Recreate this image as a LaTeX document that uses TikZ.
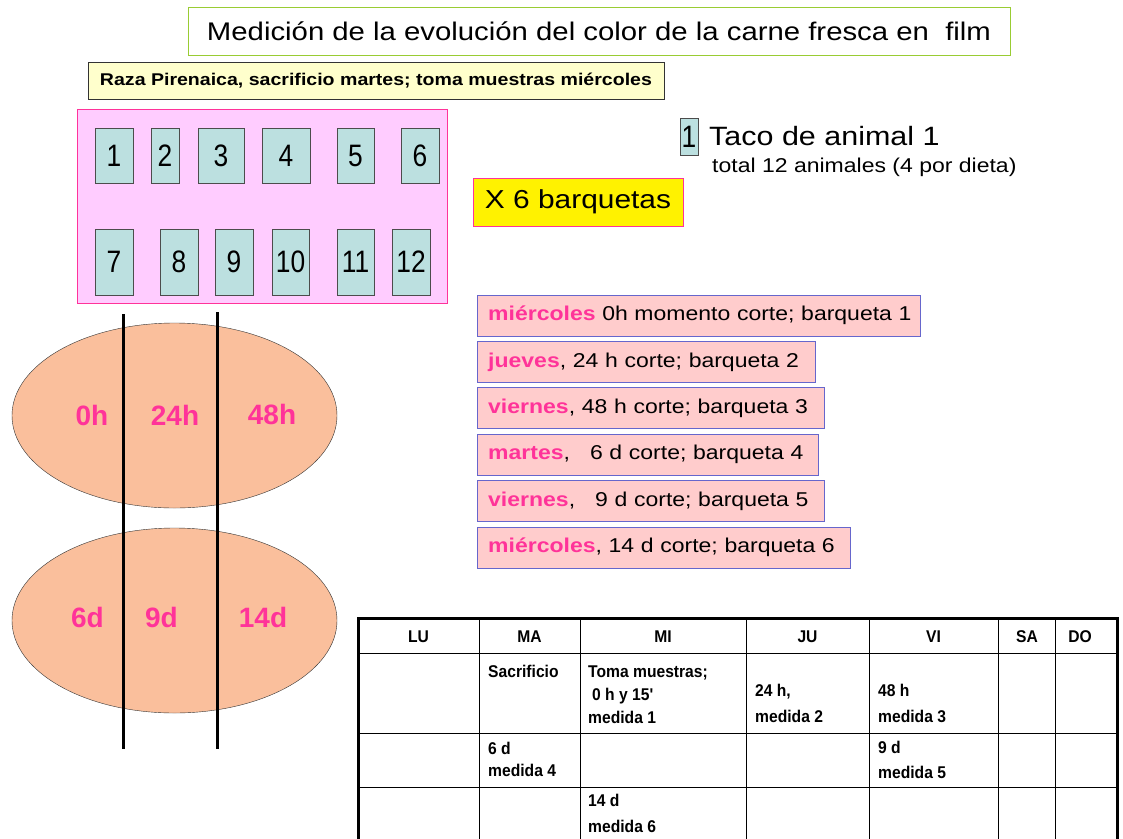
\documentclass[tikz,border=0pt]{standalone}
\usepackage{fontspec}
\setmainfont{Liberation Sans}[FakeStretch=1.15]
\newfontfamily\fuentebase{Liberation Sans}
\newfontfamily\fuentenum{Liberation Sans}[FakeStretch=0.85]
\newfontfamily\fuentetabla{Liberation Sans}[FakeStretch=0.92]
\usetikzlibrary{shapes.geometric}

\definecolor{verdetitulo}{HTML}{99CC33}
\definecolor{amarillopalido}{HTML}{FFFFCC}
\definecolor{rosapalido}{HTML}{FFCCFF}
\definecolor{rosafuerte}{HTML}{FF3399}
\definecolor{azulverde}{HTML}{BCE0E0}
\definecolor{rosacorte}{HTML}{FFCCCC}
\definecolor{lila}{HTML}{6666CC}
\definecolor{melocoton}{HTML}{FABF9C}

\newcommand{\diarosa}[1]{\textcolor{rosafuerte}{\textbf{#1}}}

\begin{document}
\begin{tikzpicture}[x=1pt,y=-1pt,
    taco/.style={draw=black!70, fill=azulverde, inner sep=0pt,
        font=\fuentenum\fontsize{31}{31}\selectfont},
    corte/.style={draw=lila, fill=rosacorte, anchor=west, align=left,
        minimum height=41pt, inner xsep=11pt, inner ysep=0pt,
        font=\fontsize{20}{24}\selectfont},
    tiempo/.style={text=rosafuerte, anchor=base,
        font=\fuentebase\bfseries\fontsize{28}{28}\selectfont},
    celda/.style={anchor=base west, inner sep=0pt,
        font=\fuentetabla\bfseries\fontsize{17}{17}\selectfont},
    cabecera/.style={celda, anchor=base}]

    % page
    \useasboundingbox (0,0) rectangle (1123,838);
    \fill[white] (0,0) rectangle (1123,838);

    % titles
    % ------
    \node[draw=verdetitulo, line width=1pt, minimum width=822pt, minimum height=48pt,
        font=\fontsize{25.5}{30}\selectfont] (titulo) at (599,31)
        {Medición de la evolución del color de la carne fresca en\ \ film};
    \node[draw=black!80, fill=amarillopalido, line width=1pt, minimum width=576pt,
        minimum height=37pt, font=\bfseries\fontsize{17}{20}\selectfont] (raza) at (376,80.5)
        {Raza Pirenaica, sacrificio martes; toma muestras miércoles};

    % tray with the 12 animals
    % ------------------------
    \node[draw=rosafuerte, fill=rosapalido, minimum width=370pt, minimum height=194pt]
        (bandeja) at (262,206) {};
    \foreach \n/\cx/\w in {1/114/38, 2/165/28, 3/221/46, 4/286/48, 5/355.5/37, 6/420/38}
        \node[taco, minimum width=\w pt, minimum height=55pt] (taco\n) at (\cx,155.5) {\n};
    \foreach \n/\cx/\w in {7/114/38, 8/179/38, 9/234/38, 10/290.5/37, 11/355.5/37, 12/411/38}
        \node[taco, minimum width=\w pt, minimum height=66pt] (taco\n) at (\cx,262) {\n};

    % legend
    \node[taco, minimum width=18pt, minimum height=37pt,
        font=\fuentenum\fontsize{31}{31}\selectfont] (leyenda) at (689,136.5) {1};
    \node[anchor=base west, inner sep=0pt, font=\fontsize{26.5}{30}\selectfont]
        (taco) at (709,145) {Taco de animal 1};
    \node[anchor=base west, inner sep=0pt, font=\fontsize{20}{24}\selectfont]
        (total) at (712,172) {total 12 animales (4 por dieta)};

    \node[draw=rosafuerte, fill=yellow, minimum width=210pt, minimum height=48pt,
        font=\fontsize{26}{30}\selectfont] (barquetas) at (578,202) {X 6 barquetas};

    % cutting days
    % ------------
    \node[corte, text width=421pt] (corte1) at (477,315.5)
        {\mbox{\diarosa{miércoles} 0h momento corte; barqueta 1}};
    \node[corte, text width=316pt] (corte2) at (477,362)
        {\mbox{\diarosa{jueves}, 24 h corte; barqueta 2}};
    \node[corte, text width=325pt] (corte3) at (477,408)
        {\mbox{\diarosa{viernes}, 48 h corte; barqueta 3}};
    \node[corte, text width=319pt] (corte4) at (477,454.5)
        {\mbox{\diarosa{martes},\ \ \ 6 d corte; barqueta 4}};
    \node[corte, text width=325pt] (corte5) at (477,501)
        {\mbox{\diarosa{viernes},\ \ \ 9 d corte; barqueta 5}};
    \node[corte, text width=351pt] (corte6) at (477,547.5)
        {\mbox{\diarosa{miércoles}, 14 d corte; barqueta 6}};

    % steaks
    % ------
    \node[ellipse, draw=black!80, fill=melocoton, minimum width=325pt, minimum height=185pt]
        (filete1) at (174.5,415.5) {};
    \node[ellipse, draw=black!80, fill=melocoton, minimum width=325pt, minimum height=185pt]
        (filete2) at (174.5,620.5) {};

    % cut lines
    \draw[line width=3pt] (123,314) -- (123,749);
    \draw[line width=3pt] (217,312) -- (217,749);

    % add labels
    \node[tiempo] (t0h) at (92,425) {0h};
    \node[tiempo] (t24h) at (175,425) {24h};
    \node[tiempo] (t48h) at (272,424) {48h};
    \node[tiempo] (t6d) at (87.5,627) {6d};
    \node[tiempo] (t9d) at (161.5,627) {9d};
    \node[tiempo] (t14d) at (263,627) {14d};

    % calendar
    % --------
    \foreach \x in {479,580,746,869,998,1055}
        \draw[line width=0.8pt] (\x,618) -- (\x,845);
    \foreach \y in {653,733,787}
        \draw[line width=0.8pt] (358,\y) -- (1117,\y);
    \draw[line width=3pt] (358,845) -- (358,618) -- (1117,618) -- (1117,845);

    \foreach \d/\x [count=\i] in {LU/418.5, MA/529.5, MI/663, JU/807.5, VI/933.5, SA/1027, DO/1080}
        \node[cabecera] (dia\i) at (\x,642) {\d};

    \foreach \x/\y/\t [count=\i] in {488/677/Sacrificio, 588/677/Toma muestras;,
            592/700/{0 h y 15'}, 588/723/medida 1,
            755/696/{24 h,}, 755/722/medida 2, 878/696/48 h, 878/722/medida 3,
            488/754/6 d, 488/776/medida 4, 878/753/9 d, 878/778/medida 5,
            588/806/14 d, 588/832/medida 6}
        \node[celda] (celda\i) at (\x,\y) {\t};

\end{tikzpicture}
\end{document}
